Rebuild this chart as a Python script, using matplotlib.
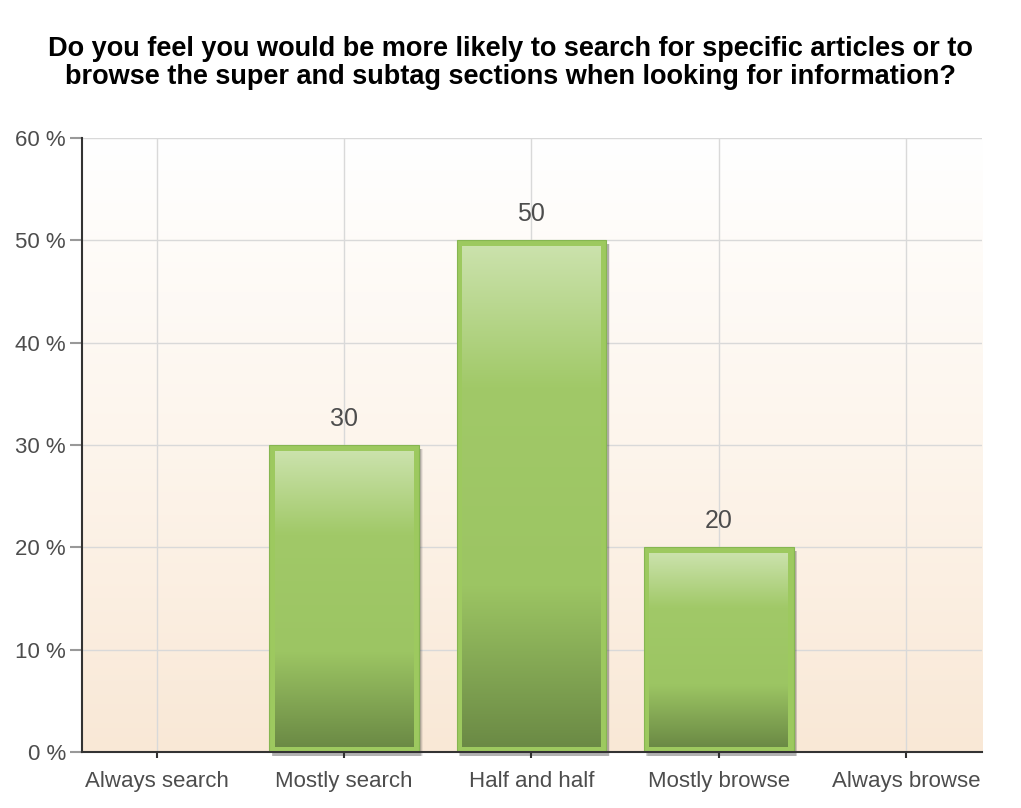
import numpy as np
import matplotlib.pyplot as plt
from matplotlib.colors import LinearSegmentedColormap
from matplotlib.patches import Rectangle
from matplotlib.transforms import offset_copy

# Datos de la encuesta
categories = ['Always search', 'Mostly search', 'Half and half', 'Mostly browse', 'Always browse']
values = [0, 30, 50, 20, 0]
yticks = [0, 10, 20, 30, 40, 50, 60]
title = ('Do you feel you would be more likely to search for specific articles or to\n'
         'browse the super and subtag sections when looking for information?')

plt.rcParams['font.family'] = ['Liberation Sans', 'DejaVu Sans']

fig = plt.figure(figsize=(10.21, 8.08), dpi=100)
ax = fig.add_axes([0.0803, 0.0693, 0.8815, 0.7597])

x = np.arange(len(categories))
width = 0.80
xlim = (-0.40, len(categories) - 1 + 0.406)
ax.set_xlim(*xlim)
ax.set_ylim(0, 60)

# píxeles por unidad de datos (para el borde de las barras)
px_x = 900 / (xlim[1] - xlim[0])
px_y = 614 / 60
border = 5.5

# Fondo degradado (blanco arriba, melocotón abajo)
bg = LinearSegmentedColormap.from_list('bg', ['#f9e8d6', '#fdf5ec', '#ffffff'])
grad = np.linspace(0, 1, 256).reshape(-1, 1)
ax.imshow(grad, cmap=bg, origin='lower', aspect='auto',
          extent=[xlim[0], xlim[1], 0, 60], zorder=0)

# Rejilla
for yt in yticks[1:]:
    ax.axhline(yt, color='#d9d9d9', lw=1, zorder=1)
for xi in x:
    ax.axvline(xi, color='#d9d9d9', lw=1, zorder=1)

# Degradado de las barras
bar_cmap = LinearSegmentedColormap.from_list(
    'bar', [(0.0, '#6b8a45'), (0.32, '#9cc563'), (0.72, '#a1c968'), (1.0, '#cbe2ac')])

shadow_tr = offset_copy(ax.transData, fig=fig, x=2, y=-3, units='dots')

for xi, v in zip(x, values):
    if v <= 0:
        continue
    left = xi - width / 2
    # sombra (varias capas para suavizarla)
    for k, a in [(0.010, 0.08), (0.006, 0.14), (0.002, 0.20)]:
        sh = Rectangle((left + k, -0.1), width, v, facecolor='#303030',
                       alpha=a, edgecolor='none', zorder=2, transform=shadow_tr,
                       clip_on=False)
        ax.add_patch(sh)
    outer = Rectangle((left, 0), width, v, facecolor='#9dc95f',
                      edgecolor='#86b651', lw=0.8, zorder=3)
    ax.add_patch(outer)
    dx = border / px_x
    dy = border / px_y
    ax.imshow(grad, cmap=bar_cmap, origin='lower', aspect='auto',
              extent=[left + dx, left + width - dx, dy, v - dy], zorder=4)
    ax.text(xi, v + 1.4, str(v), ha='center', va='bottom',
            fontsize=18, color='#4d4d4d', zorder=5)

ax.set_xlim(*xlim)
ax.set_ylim(0, 60)

ax.set_yticks(yticks)
ax.set_yticklabels([f'{t} %' for t in yticks])
ax.set_xticks(x)
ax.set_xticklabels(categories)
ax.tick_params(axis='y', length=8.5, color='#999999', width=1.5,
               labelsize=16, labelcolor='#4d4d4d', pad=3)
ax.tick_params(axis='x', length=4.5, color='#333333', width=1.5,
               labelsize=16, labelcolor='#4d4d4d', pad=9)

for s in ['top', 'right']:
    ax.spines[s].set_visible(False)
for s in ['left', 'bottom']:
    ax.spines[s].set_color('#333333')
    ax.spines[s].set_linewidth(1.5)
    ax.spines[s].set_zorder(6)

fig.text(0.5, 0.955, title, ha='center', va='top', fontsize=19.5,
         fontweight='bold', color='#000000', linespacing=1.08)

fig.savefig('out.png', dpi=100, facecolor='white')
